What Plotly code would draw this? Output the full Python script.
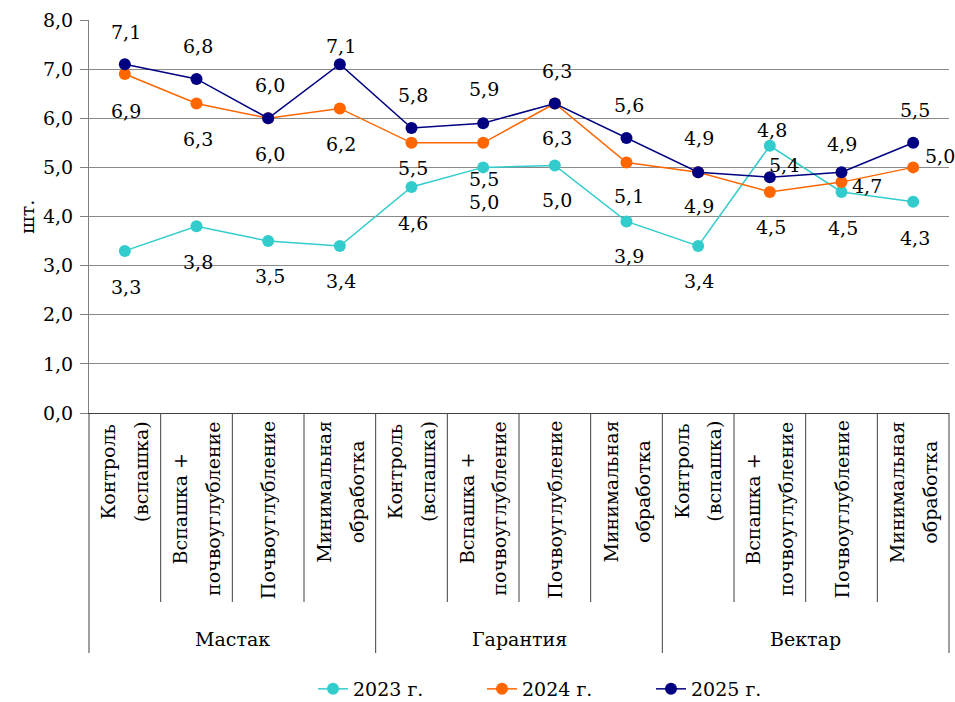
import plotly.graph_objects as go

# ---- data ----
groups = ["Мастак", "Гарантия", "Вектар"]
treatments = [["Контроль", "(вспашка)"], ["Вспашка +", "почвоуглубление"],
              ["Почвоуглубление"], ["Минимальная", "обработка"]]
series_names = ["2023 г.", "2024 г.", "2025 г."]
y2023 = [3.3, 3.8, 3.5, 3.4, 4.6, 5.0, 5.04, 3.9, 3.4, 5.44, 4.5, 4.3]
y2024 = [6.9, 6.3, 6.0, 6.2, 5.5, 5.5, 6.3, 5.1, 4.9, 4.5, 4.7, 5.0]
y2025 = [7.1, 6.8, 6.0, 7.1, 5.8, 5.9, 6.3, 5.6, 4.9, 4.8, 4.9, 5.5]
y_ticks = [0, 1, 2, 3, 4, 5, 6, 7, 8]

# ---- styling ----
colors = ["#33CCCC", "#FF6600", "#000080"]
FONT = "DejaVu Serif"
FS = 19
HIDE = "<span style='color:rgba(0,0,0,0)'>{}</span>"
# data-label offsets (dx, dy) in px, screen coordinates
off23 = [(1, 37), (1, 37), (2, 36), (1, 36), (1, 37), (1, 36), (2, 36), (2, 36), (1, 36), (14, 20), (1, 37), (2, 37)]
off24 = [(1, 38), (1, 36), (2, 37), (1, 37), (1, 26), (1, 37), (2, 35), (2, 35), (1, 35), (1, 36), (25, 5), (27, -10)]
off25 = [(1, -31), (1, -32), (2, -32), (1, -17), (1, -32), (1, -33), (2, -32), (2, -32), (1, -33), (2, -46), (0, -27), (2, -32)]

n_cat = len(groups) * len(treatments)
xs = list(range(n_cat))

fig = go.Figure()
for name, ys, col in zip(series_names, [y2023, y2024, y2025], colors):
    fig.add_trace(go.Scatter(
        x=xs, y=ys, name=name, mode="lines+markers",
        line=dict(color=col, width=1.5),
        marker=dict(color=col, size=12),
        cliponaxis=False,
    ))

annotations = []
for ys, offs in zip([y2023, y2024, y2025], [off23, off24, off25]):
    for i, (v, (dx, dy)) in enumerate(zip(ys, offs)):
        annotations.append(dict(
            x=i, y=v, xref="x", yref="y", text=f"{v:.1f}".replace(".", ","),
            showarrow=False, xshift=dx, yshift=-dy + 1,
            font=dict(family=FONT, size=FS, color="black"),
        ))

# plot area geometry (px)
L, R, T, B = 89, 6, 20, 289
H = 702 - T - B

def py(px_y):
    return (702 - B - px_y) / H

# category labels (each line drawn separately so the line gap can be widened,
# while keeping the lines centred on one another)
for g, grp in enumerate(groups):
    for t, lines in enumerate(treatments):
        i = g * len(treatments) + t
        n = len(lines)
        for j in range(n):
            parts = [ln if k == j else HIDE.format(ln) for k, ln in enumerate(lines)]
            shift = (j - (n - 1) / 2) * 8
            annotations.append(dict(
                x=i, y=py(419), xref="x", yref="paper", text="<br>".join(parts),
                textangle=-90, showarrow=False, xanchor="center", yanchor="top",
                align="center", xshift=shift,
                font=dict(family=FONT, size=FS, color="black"),
            ))
    annotations.append(dict(
        x=g * len(treatments) + (len(treatments) - 1) / 2, y=py(639), xref="x", yref="paper",
        text=grp, showarrow=False, xanchor="center", yanchor="middle",
        font=dict(family=FONT, size=FS, color="black"),
    ))

# y-axis title
annotations.append(dict(
    x=(27 - L) / (955 - L - R), y=py(217), xref="paper", yref="paper", text="шт.",
    textangle=-90, showarrow=False, xanchor="center", yanchor="middle",
    font=dict(family=FONT, size=FS, color="black"),
))

# divider lines below the axis
shapes = []
for k in range(n_cat + 1):
    xp = k / n_cat
    bottom = 653 if k % len(treatments) == 0 else 602
    shapes.append(dict(type="line", xref="paper", yref="paper", x0=xp, x1=xp,
                       y0=0, y1=py(bottom), line=dict(color="#404040", width=1)))

fig.update_layout(
    width=955, height=702,
    margin=dict(l=L, r=R, t=T, b=B, pad=0, autoexpand=False),
    paper_bgcolor="white", plot_bgcolor="white",
    separators=", ",
    font=dict(family=FONT, size=FS, color="black"),
    showlegend=True,
    legend=dict(orientation="h", xref="container", yref="container",
                x=313 / 955, xanchor="left",
                y=1 - 689 / 702, yanchor="middle", font=dict(family=FONT, size=FS),
                bgcolor="rgba(0,0,0,0)", entrywidth=124),
    annotations=annotations,
    shapes=shapes,
    xaxis=dict(range=[-0.5, n_cat - 0.5], showticklabels=False, showgrid=False,
               zeroline=False, showline=True, linecolor="#404040", linewidth=1,
               ticks="", fixedrange=True, automargin=False),
    yaxis=dict(range=[0, 8], tickvals=y_ticks, tickformat=".1f", showgrid=True,
               gridcolor="#8a8a8a", gridwidth=1, zeroline=False, showline=True,
               linecolor="#808080", linewidth=1, ticks="outside", ticklen=8,
               tickcolor="#808080", tickfont=dict(family=FONT, size=FS),
               ticklabelstandoff=3, fixedrange=True, automargin=False),
)

fig.write_html("out.html", config={"displayModeBar": False},
               post_script="document.body.style.margin='0';document.body.style.overflow='hidden';")
